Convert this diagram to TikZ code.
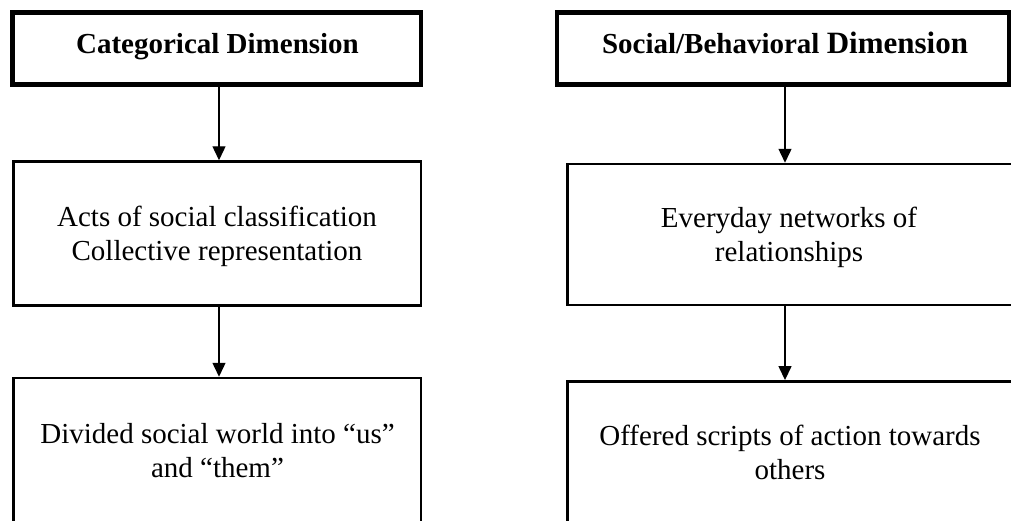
\documentclass[tikz,border=0pt]{standalone}
\usepackage{fontspec}
\setmainfont{Liberation Serif}
\usetikzlibrary{arrows.meta}
\begin{document}
\begin{tikzpicture}[x=1pt,y=-1pt,
  titlebox/.style={draw, rectangle, line width=4.5pt, inner sep=0pt},
  plainbox/.style={draw, rectangle, line width=2.5pt, inner sep=0pt},
  boxtext/.style={font=\fontsize{29}{33.5}\selectfont, align=center, anchor=base, inner sep=0pt},
  titletext/.style={font=\fontsize{29}{33.5}\selectfont\bfseries, anchor=base, inner sep=0pt},
  arr/.style={line width=1.4pt, -{Triangle[length=14pt,width=13pt]}}]
\useasboundingbox (0,0) rectangle (1011,520);
\clip (0,0) rectangle (1011,520);

% boxes
\node[titlebox, minimum width=408.5pt, minimum height=72pt] (tl) at (216.75,48.5) {};
\node[titlebox, minimum width=452pt, minimum height=72pt] (tr) at (783,48.5) {};
\node[plainbox, minimum width=407.5pt, minimum height=144pt] (ml) at (217.25,233.5) {};
\node[plainbox, minimum width=445.5pt, minimum height=141pt] (mr) at (790.25,234.5) {};
\node[plainbox, minimum width=407.5pt, minimum height=152pt] (bl) at (217.25,454) {};
\node[plainbox, minimum width=445.5pt, minimum height=149pt] (br) at (790.25,455.8) {};

% texts (base anchor = baseline of the last line)
\node[titletext] (tlt) at (217.5,53) {Categorical Dimension};
\node[titletext] (trt) at (785,53) {Social/Behavioral {\fontsize{31}{35}\selectfont Dimension}};
\node[boxtext] (mlt) at (217,260) {Acts of social classification\\Collective representation};
\node[boxtext] (mrt) at (789,261) {Everyday networks of\\relationships};
\node[boxtext] (blt) at (217.5,477) {Divided social world into “us”\\and “them”};
\node[boxtext] (brt) at (790,479) {Offered scripts of action towards\\others};

% arrow columns
\coordinate (lc) at (219,0);
\coordinate (rc) at (785,0);
\draw[arr] (tl.south -| lc) -- (ml.north -| lc);
\draw[arr] (ml.south -| lc) -- (bl.north -| lc);
\draw[arr] (tr.south -| rc) -- (mr.north -| rc);
\draw[arr] (mr.south -| rc) -- (br.north -| rc);
\end{tikzpicture}
\end{document}
